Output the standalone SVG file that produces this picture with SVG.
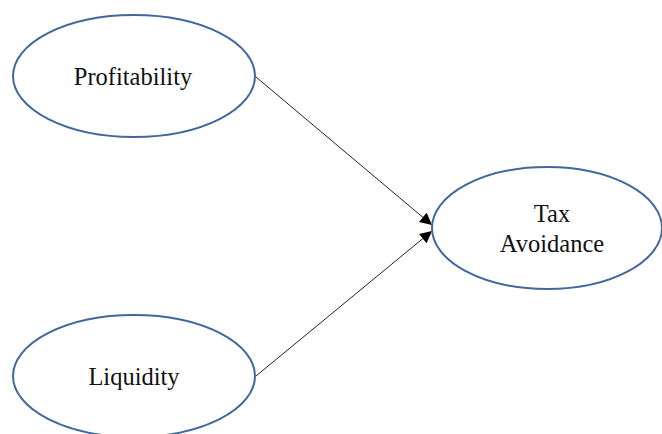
<svg xmlns="http://www.w3.org/2000/svg" width="662" height="434" viewBox="0 0 662 434">
<style>
.n{fill:#fff;stroke:#41679c;stroke-width:2}
.t{font-family:"Liberation Serif",serif;font-size:24.5px;fill:#111;text-anchor:middle}
.c{stroke:#222;stroke-width:1;fill:none}
</style>
<defs>
<marker id="a" viewBox="0 0 10 10" refX="10" refY="5" markerWidth="12" markerHeight="12" markerUnits="userSpaceOnUse" orient="auto">
<path d="M0,0 L10,5 L0,10 z" fill="#000"/>
</marker>
</defs>
<rect width="662" height="434" fill="#fff"/>
<g id="connectors">
<line class="c" x1="256" y1="77" x2="432" y2="225" marker-end="url(#a)"/>
<line class="c" x1="256" y1="376" x2="432" y2="231" marker-end="url(#a)"/>
</g>
<g id="profitability">
<ellipse class="n" cx="134" cy="76" rx="121" ry="61"/>
<text class="t" x="133" y="85">Profitability</text>
</g>
<g id="liquidity">
<ellipse class="n" cx="134" cy="376" rx="121" ry="61"/>
<text class="t" x="134" y="385">Liquidity</text>
</g>
<g id="tax-avoidance">
<ellipse class="n" cx="547" cy="228" rx="115" ry="61"/>
<text class="t" x="552" y="222">Tax</text>
<text class="t" x="552" y="252">Avoidance</text>
</g>
</svg>
